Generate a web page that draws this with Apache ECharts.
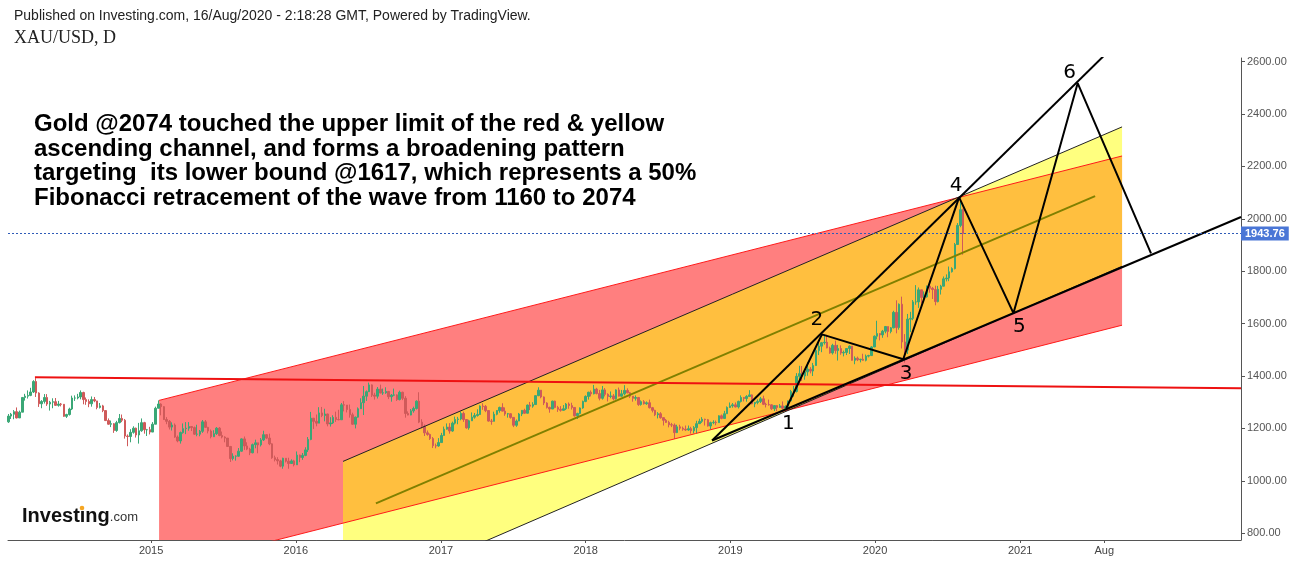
<!DOCTYPE html>
<html>
<head>
<meta charset="utf-8">
<script src="https://cdn.jsdelivr.net/npm/echarts@6/dist/echarts.min.js"></script>
<style>
  html, body { margin: 0; padding: 0; background: #fff; }
  #chart { width: 1299px; height: 563px; }
</style>
</head>
<body>
<div id="chart"></div>
<script>
// axis ticks
const xTickDates = ['2015-01-01', '2016-01-01', '2017-01-01', '2018-01-01', '2019-01-01', '2020-01-01', '2021-01-01', '2021-08-01']
const xTickLabels = ['2015', '2016', '2017', '2018', '2019', '2020', '2021', 'Aug']
const yTicks = [800, 1000, 1200, 1400, 1600, 1800, 2000, 2200, 2400, 2600]
const lastPrice = 1943.76

// weekly XAU/USD, [close, low, high], open = previous close
const firstOpen = 1225
const gold2014 = [
  [1247, 1221, 1255], [1254, 1236, 1259], [1264, 1235, 1270], [1240, 1238, 1280],
  [1262, 1240, 1268], [1318, 1271, 1320], [1323, 1306, 1332], [1326, 1314, 1345],
  [1339, 1323, 1355], [1379, 1335, 1384], [1335, 1320, 1392], [1294, 1282, 1338], [1303, 1277, 1308],
  [1318, 1295, 1331], [1293, 1286, 1331], [1300, 1268, 1305], [1302, 1277, 1315],
  [1288, 1286, 1316], [1293, 1283, 1305], [1292, 1284, 1297], [1246, 1244, 1293],
  [1253, 1240, 1256], [1274, 1249, 1279], [1316, 1270, 1325], [1316, 1305, 1326], [1320, 1311, 1332],
  [1337, 1311, 1345], [1310, 1292, 1340], [1303, 1290, 1318], [1294, 1281, 1311],
  [1310, 1283, 1322], [1305, 1300, 1320], [1280, 1273, 1305], [1286, 1276, 1297],
  [1268, 1262, 1290], [1230, 1228, 1270], [1216, 1214, 1238], [1218, 1205, 1230], [1192, 1183, 1220],
  [1222, 1187, 1229], [1238, 1219, 1255], [1231, 1224, 1253], [1171, 1161, 1236],
  [1169, 1132, 1177], [1185, 1147, 1197], [1201, 1180, 1208], [1175, 1165, 1203],
  [1191, 1142, 1221], [1222, 1187, 1238], [1195, 1180, 1225], [1195, 1171, 1198], [1186, 1177, 1206]
]
const gold2015 = [
  [1216, 1187, 1224], [1277, 1216, 1283], [1293, 1277, 1307], [1283, 1250, 1296],
  [1234, 1232, 1285], [1227, 1216, 1243], [1205, 1196, 1232], [1213, 1192, 1223],
  [1167, 1164, 1219], [1152, 1147, 1173], [1184, 1142, 1188], [1199, 1180, 1219], [1201, 1178, 1224],
  [1207, 1191, 1224], [1203, 1190, 1209], [1178, 1175, 1207], [1178, 1170, 1214],
  [1189, 1170, 1194], [1225, 1183, 1232], [1204, 1202, 1232], [1190, 1181, 1206],
  [1168, 1162, 1196], [1180, 1170, 1193], [1201, 1175, 1205], [1173, 1170, 1205], [1167, 1162, 1188],
  [1163, 1147, 1170], [1131, 1129, 1163], [1085, 1072, 1133], [1094, 1078, 1105],
  [1094, 1077, 1097], [1113, 1092, 1125], [1160, 1111, 1162], [1133, 1118, 1169], [1121, 1117, 1147],
  [1107, 1098, 1126], [1138, 1105, 1142], [1145, 1124, 1157], [1137, 1105, 1144],
  [1156, 1131, 1163], [1176, 1152, 1191], [1163, 1159, 1178], [1141, 1136, 1180],
  [1088, 1084, 1143], [1081, 1074, 1096], [1076, 1062, 1090], [1056, 1052, 1080], [1086, 1046, 1088],
  [1075, 1070, 1086], [1066, 1046, 1088], [1076, 1065, 1082], [1061, 1055, 1080]
]
const gold2016 = [
  [1098, 1061, 1112], [1089, 1071, 1100], [1097, 1080, 1106], [1118, 1094, 1128],
  [1158, 1110, 1167], [1239, 1155, 1263], [1227, 1198, 1240], [1220, 1208, 1253], [1259, 1226, 1281],
  [1249, 1243, 1282], [1255, 1227, 1275], [1217, 1208, 1256], [1221, 1207, 1243],
  [1242, 1217, 1250], [1234, 1225, 1264], [1233, 1231, 1271], [1290, 1235, 1297],
  [1289, 1265, 1304], [1272, 1261, 1283], [1252, 1241, 1291], [1216, 1213, 1260], [1243, 1200, 1245],
  [1275, 1241, 1280], [1298, 1275, 1315], [1323, 1251, 1362], [1340, 1305, 1345],
  [1366, 1339, 1375], [1327, 1320, 1368], [1323, 1310, 1336], [1350, 1314, 1358],
  [1335, 1334, 1367], [1336, 1328, 1352], [1341, 1332, 1357], [1321, 1312, 1343], [1327, 1302, 1331],
  [1328, 1323, 1352], [1310, 1305, 1330], [1338, 1307, 1344], [1315, 1308, 1340],
  [1257, 1241, 1323], [1251, 1250, 1265], [1267, 1250, 1274], [1276, 1260, 1283], [1304, 1272, 1307],
  [1224, 1220, 1338], [1208, 1200, 1235], [1183, 1171, 1215], [1177, 1172, 1192],
  [1161, 1156, 1180], [1134, 1125, 1167], [1133, 1124, 1142], [1146, 1130, 1163]
]
const gold2017 = [
  [1173, 1146, 1183], [1197, 1174, 1207], [1205, 1195, 1219], [1190, 1180, 1220], [1220, 1187, 1226],
  [1234, 1215, 1245], [1236, 1216, 1244], [1257, 1231, 1264], [1234, 1225, 1264],
  [1202, 1199, 1234], [1229, 1195, 1233], [1243, 1229, 1261], [1249, 1237, 1259],
  [1253, 1245, 1273], [1285, 1251, 1288], [1284, 1271, 1296], [1268, 1262, 1289],
  [1228, 1226, 1267], [1227, 1214, 1236], [1254, 1230, 1264], [1268, 1250, 1270], [1280, 1260, 1283],
  [1266, 1265, 1296], [1255, 1248, 1280], [1256, 1241, 1259], [1242, 1237, 1257],
  [1212, 1205, 1243], [1228, 1206, 1234], [1255, 1230, 1259], [1269, 1247, 1270], [1258, 1256, 1275],
  [1289, 1257, 1291], [1285, 1270, 1301], [1291, 1279, 1300], [1325, 1290, 1326],
  [1346, 1323, 1357], [1320, 1315, 1339], [1297, 1289, 1322], [1280, 1276, 1300],
  [1274, 1260, 1283], [1304, 1278, 1306], [1280, 1277, 1306], [1273, 1263, 1286], [1269, 1264, 1285],
  [1275, 1268, 1289], [1293, 1270, 1297], [1287, 1275, 1299], [1280, 1272, 1298],
  [1248, 1245, 1279], [1257, 1236, 1260], [1278, 1254, 1280], [1303, 1275, 1306]
]
const gold2018 = [
  [1322, 1300, 1326], [1338, 1310, 1340], [1332, 1322, 1345], [1350, 1330, 1366], [1333, 1330, 1355],
  [1315, 1307, 1347], [1347, 1310, 1362], [1330, 1322, 1354], [1322, 1303, 1334],
  [1324, 1315, 1341], [1313, 1307, 1331], [1347, 1310, 1349], [1323, 1322, 1356],
  [1332, 1321, 1347], [1345, 1326, 1365], [1336, 1334, 1353], [1323, 1316, 1339], [1315, 1302, 1322],
  [1318, 1306, 1326], [1291, 1286, 1320], [1302, 1287, 1307], [1294, 1291, 1308],
  [1298, 1290, 1303], [1279, 1276, 1310], [1269, 1261, 1282], [1252, 1247, 1271],
  [1256, 1238, 1262], [1241, 1237, 1262], [1231, 1211, 1242], [1223, 1221, 1236], [1214, 1204, 1229],
  [1213, 1205, 1221], [1184, 1160, 1219], [1206, 1182, 1214], [1201, 1193, 1214],
  [1197, 1191, 1207], [1194, 1190, 1211], [1199, 1191, 1211], [1191, 1180, 1206],
  [1203, 1181, 1209], [1218, 1182, 1229], [1227, 1222, 1237], [1235, 1221, 1243], [1233, 1211, 1237],
  [1209, 1207, 1236], [1222, 1196, 1226], [1223, 1216, 1231], [1222, 1212, 1230],
  [1248, 1222, 1250], [1238, 1235, 1253], [1256, 1238, 1267], [1280, 1255, 1284], [1286, 1278, 1299]
]
const gold2019 = [
  [1290, 1279, 1297], [1282, 1280, 1299], [1303, 1276, 1306], [1318, 1299, 1326],
  [1314, 1303, 1320], [1322, 1302, 1327], [1328, 1321, 1346], [1294, 1292, 1330],
  [1299, 1281, 1301], [1303, 1292, 1311], [1313, 1297, 1320], [1292, 1289, 1325],
  [1291, 1280, 1298], [1290, 1287, 1310], [1275, 1270, 1292], [1287, 1266, 1288], [1280, 1266, 1289],
  [1286, 1279, 1293], [1277, 1273, 1303], [1284, 1269, 1288], [1305, 1276, 1306],
  [1341, 1306, 1347], [1341, 1321, 1362], [1399, 1337, 1411], [1409, 1382, 1439],
  [1400, 1381, 1438], [1416, 1386, 1419], [1426, 1401, 1453], [1419, 1410, 1434], [1440, 1400, 1450],
  [1497, 1440, 1510], [1514, 1480, 1535], [1527, 1491, 1530], [1529, 1520, 1555],
  [1507, 1506, 1557], [1488, 1485, 1512], [1517, 1482, 1523], [1497, 1485, 1535], [1505, 1459, 1519],
  [1488, 1481, 1517], [1490, 1475, 1497], [1505, 1480, 1506], [1514, 1484, 1517],
  [1460, 1459, 1513], [1468, 1445, 1475], [1462, 1457, 1474], [1464, 1452, 1466],
  [1460, 1458, 1485], [1476, 1456, 1482], [1478, 1471, 1481], [1511, 1477, 1514], [1552, 1510, 1555]
]
const gold2020 = [
  [1562, 1540, 1611], [1557, 1536, 1563], [1571, 1546, 1576], [1589, 1563, 1591],
  [1570, 1548, 1584], [1584, 1563, 1587], [1643, 1582, 1649], [1585, 1563, 1689],
  [1674, 1577, 1677], [1530, 1505, 1703], [1499, 1451, 1560], [1617, 1484, 1637], [1620, 1568, 1645],
  [1683, 1613, 1690], [1683, 1672, 1747], [1729, 1660, 1738], [1700, 1677, 1723],
  [1702, 1688, 1723], [1743, 1699, 1745], [1735, 1718, 1765], [1730, 1694, 1740],
  [1684, 1670, 1745], [1731, 1681, 1744], [1743, 1711, 1748], [1771, 1742, 1780], [1774, 1761, 1788],
  [1798, 1762, 1818], [1810, 1795, 1815], [1902, 1807, 1908], [1975, 1902, 1984],
  [2035, 1968, 2075], [1944, 1863, 2039]
]
// first monday of each block
const goldYears = [
  ['2014-01-06', gold2014], ['2015-01-05', gold2015], ['2016-01-04', gold2016],
  ['2017-01-02', gold2017], ['2018-01-01', gold2018], ['2019-01-07', gold2019], ['2020-01-06', gold2020]
]

// drawings (date, price)
const redChannelTop = [['2015-01-21', 1307], ['2021-09-15', 2240]]
const redChannelBottom = [['2015-01-21', 660], ['2021-09-15', 1594]]
const yellowChannelTop = [['2016-04-29', 1074], ['2021-09-15', 2351]]
const yellowChannelBottom = [['2016-04-29', 535], ['2021-09-15', 1819]]
const midLine = [['2016-07-21', 914], ['2021-07-09', 2087]]
const resistance2014 = [['2014-03-14', 1395], ['2022-07-12', 1353]]
const broadUpper = [['2018-11-16', 1154], ['2021-08-16', 2646]]
const broadLower = [['2018-11-16', 1154], ['2022-07-12', 2007]]
const waveDates = ['2019-05-22', '2019-08-20', '2020-03-12', '2020-07-31', '2020-12-15', '2021-05-26', '2021-11-27']
const wavePrices = [1277, 1559, 1464, 2082, 1640, 2518, 1868]
const waveLabels = ['1', '2', '3', '4', '5', '6', '']

const noteText = [
  'Gold @2074 touched the upper limit of the red & yellow',
  'ascending channel, and forms a broadening pattern',
  'targeting  its lower bound @1617, which represents a 50%',
  'Fibonacci retracement of the wave from 1160 to 2074'
]

const DAY = 86400000
const ts = (s) => Date.parse(s + 'T00:00:00Z')
const pts = (arr) => arr.map((p) => [ts(p[0]), p[1]])

const candles = []
let prevClose = firstOpen
goldYears.forEach(([start, rows]) => {
  rows.forEach((r, i) => {
    const open = prevClose
    const close = r[0]
    candles.push([ts(start) + i * 7 * DAY, open, close, Math.min(r[1], open, close), Math.max(r[2], open, close)])
    prevClose = close
  })
})

const xTickValues = xTickDates.map(ts)

function channel(top, bottom, fill) {
  const corners = [top[0], top[1], bottom[1], bottom[0]]
  return {
    type: 'custom',
    clip: true,
    silent: true,
    data: [[ts(top[0][0]), top[0][1]]],
    renderItem: (params, api) => ({
      type: 'polygon',
      shape: { points: corners.map((p) => api.coord([ts(p[0]), p[1]])) },
      style: { fill: fill }
    })
  }
}

function segment(arr, color, width) {
  return {
    type: 'line',
    data: pts(arr),
    symbol: 'none',
    silent: true,
    lineStyle: { color: color, width: width }
  }
}

const labelPlace = [
  { position: 'bottom', distance: 5, offset: [2, 0] },
  { position: 'top', distance: 4, offset: [-5, 0] },
  { position: 'bottom', distance: 4, offset: [3, 0] },
  { position: 'top', distance: 1, offset: [-3, 0] },
  { position: 'bottom', distance: 3, offset: [6, 0] },
  { position: 'top', distance: 0, offset: [-8, 0] },
  { position: 'top', distance: 0, offset: [0, 0] }
]

const chart = echarts.init(document.getElementById('chart'))
chart.setOption({
  animation: false,
  backgroundColor: '#fff',
  grid: { left: 8, right: 58, top: 58, bottom: 23 },
  xAxis: {
    type: 'value',
    min: ts('2014-01-05'),
    max: ts('2022-07-12'),
    axisLine: { onZero: false, lineStyle: { color: '#555', width: 1 } },
    axisTick: { show: true, customValues: xTickValues, length: 3, lineStyle: { color: '#555' } },
    axisLabel: {
      customValues: xTickValues,
      formatter: (v) => xTickLabels[xTickValues.indexOf(v)],
      color: '#444',
      fontSize: 11,
      fontFamily: 'Liberation Sans',
      margin: 5
    },
    splitLine: { show: false }
  },
  yAxis: {
    type: 'value',
    position: 'right',
    min: 774,
    max: 2614,
    axisLine: { show: true, lineStyle: { color: '#555', width: 1 } },
    axisTick: { show: true, customValues: yTicks, length: 4, lineStyle: { color: '#555' } },
    axisLabel: {
      customValues: yTicks,
      formatter: (v) => v.toFixed(2),
      color: '#555',
      fontSize: 11,
      fontFamily: 'Liberation Sans',
      margin: 6
    },
    splitLine: { show: false }
  },
  series: [
    channel(redChannelTop, redChannelBottom, 'rgba(255,0,0,0.5)'),
    channel(yellowChannelTop, yellowChannelBottom, 'rgba(255,255,0,0.5)'),
    segment(redChannelTop, '#ff1a1a', 1),
    segment(redChannelBottom, '#ff1a1a', 1),
    segment(yellowChannelTop, '#222', 1),
    segment(yellowChannelBottom, '#222', 1),
    {
      type: 'candlestick',
      data: candles,
      barWidth: 2,
      silent: true,
      itemStyle: {
        color: '#3aa776',
        color0: '#cf5a5a',
        borderColor: '#3aa776',
        borderColor0: '#cf5a5a',
        borderWidth: 1
      },
      markLine: {
        symbol: 'none',
        silent: true,
        data: [{ yAxis: lastPrice }],
        lineStyle: { color: '#2f5bb7', type: [2, 2], width: 1 },
        label: {
          position: 'end',
          distance: 0,
          formatter: lastPrice.toFixed(2),
          backgroundColor: '#4a76d6',
          color: '#fff',
          fontWeight: 'bold',
          fontSize: 11,
          fontFamily: 'Liberation Sans',
          padding: [2, 4, 1, 4]
        }
      }
    },
    segment(midLine, '#808000', 2),
    segment(resistance2014, '#ee1111', 2),
    segment(broadUpper, '#000', 2),
    segment(broadLower, '#000', 2),
    {
      type: 'line',
      silent: true,
      symbol: 'circle',
      symbolSize: 1,
      itemStyle: { color: 'rgba(0,0,0,0)' },
      lineStyle: { color: '#000', width: 2 },
      data: waveDates.map((d, i) => ({
        value: [ts(d), wavePrices[i]],
        label: Object.assign({
          show: true,
          formatter: waveLabels[i],
          color: '#000',
          fontSize: 20,
          fontFamily: 'DejaVu Sans'
        }, labelPlace[i])
      }))
    }
  ],
  graphic: [
    {
      type: 'text', left: 14, top: 9,
      style: { text: 'Published on Investing.com, 16/Aug/2020 - 2:18:28 GMT, Powered by TradingView.', font: '14px "Liberation Sans"', fill: '#222' }
    },
    {
      type: 'text', left: 14, top: 29,
      style: { text: 'XAU/USD, D', font: '18px "Liberation Serif"', fill: '#222' }
    },
    {
      type: 'text', left: 34, top: 112,
      style: { text: noteText.join('\n'), font: 'bold 24px "Liberation Sans"', lineHeight: 24.7, fill: '#000' }
    },
    {
      type: 'text', left: 22, top: 506,
      style: {
        text: '{a|Investing}{b|.com}',
        rich: {
          a: { fontSize: 20, fontWeight: 'bold', fontFamily: 'Liberation Sans', fill: '#111', verticalAlign: 'bottom' },
          b: { fontSize: 13, fontFamily: 'Liberation Sans', fill: '#333', verticalAlign: 'bottom', padding: [0, 0, 2, 0] }
        }
      }
    },
    {
      type: 'circle', shape: { cx: 82, cy: 508, r: 2.3 }, style: { fill: '#f5a623' }
    }
  ]
})
</script>
</body>
</html>
